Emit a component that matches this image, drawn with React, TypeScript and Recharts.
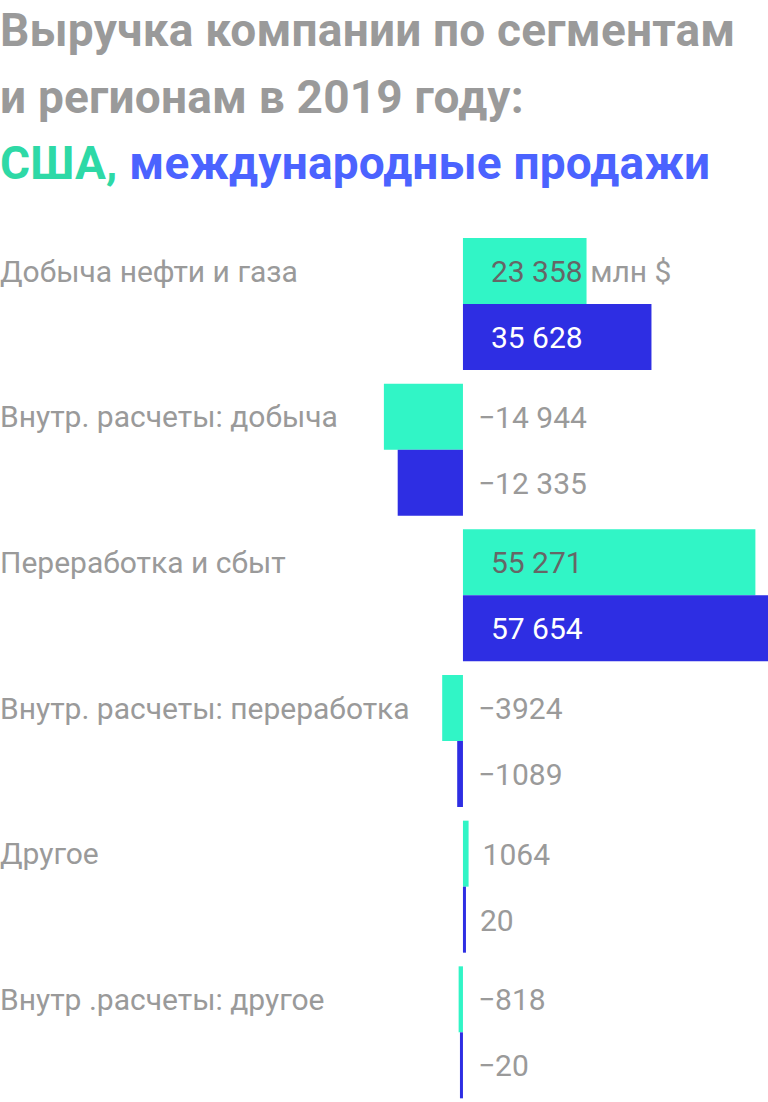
import React from 'react';
import { BarChart, Bar, XAxis, YAxis, LabelList } from 'recharts';

const categories = [
  'Добыча нефти и газа',
  'Внутр. расчеты: добыча',
  'Переработка и сбыт',
  'Внутр. расчеты: переработка',
  'Другое',
  'Внутр .расчеты: другое',
];
const usaValues = [23358, -14944, 55271, -3924, 1064, -818];
const intlValues = [35628, -12335, 57654, -1089, 20, -20];
const unitLabel = 'млн $';

const data = categories.map((name, i) => ({ name, usa: usaValues[i], intl: intlValues[i] }));

const GREEN = '#31F5C6';
const BLUE = '#2E2EE3';
const GREY = '#9a9a9a';
const FONT = 'Roboto, "Noto Sans", sans-serif';

const fmt = (v: number) => {
  const a = Math.abs(v);
  let s = String(a);
  if (a >= 10000) s = s.replace(/\B(?=(\d{3})+(?!\d))/g, ' ');
  return (v < 0 ? '−' : '') + s;
};

const makeValueLabel = (series: 'usa' | 'intl') => (props: any) => {
  const { x, y, width, height, value, index } = props;
  const v = Number(value);
  let lx: number;
  let fill = GREY;
  if (v >= 10000) {
    lx = x + 28;
    fill = series === 'usa' ? '#666666' : '#ffffff';
  } else if (v > 0) {
    lx = x + width + 14;
  } else {
    lx = x + 15;
  }
  const cy = y + height / 2;
  return (
    <text x={lx} y={cy} dominantBaseline="central" fontFamily={FONT} fontSize={30} fill={fill}>
      <tspan>{fmt(v)}</tspan>
      {series === 'usa' && index === 0 ? <tspan fill={GREY}>{' ' + unitLabel}</tspan> : null}
    </text>
  );
};

const CategoryLabel = (props: any) => {
  const { y, height, value } = props;
  return (
    <text x={0} y={y + height / 2} dominantBaseline="central" fontFamily={FONT} fontSize={30} fill={GREY}>
      {value}
    </text>
  );
};

export default function App() {
  return (
    <div style={{ position: 'relative', width: 768, height: 1102, overflow: 'hidden', background: '#fff' }}>
      <style>{`body{margin:0;}`}</style>
      <div
        style={{
          position: 'absolute',
          left: 0,
          top: -3,
          fontFamily: FONT,
          fontWeight: 700,
          fontSize: 46,
          letterSpacing: 0.2,
          lineHeight: '66.5px',
          color: GREY,
          whiteSpace: 'nowrap',
        }}
      >
        <div>Выручка компании по сегментам</div>
        <div>и регионам в 2019 году:</div>
        <div>
          <span style={{ color: '#2ED9A6' }}>США,</span>{' '}
          <span style={{ color: '#4B63FF' }}>международные продажи</span>
        </div>
      </div>
      <div style={{ position: 'absolute', left: 0, top: 0 }}>
        <BarChart
          width={768}
          height={1110}
          data={data}
          layout="vertical"
          margin={{ top: 231, right: 0, bottom: 5, left: 0 }}
          barGap={0}
          barCategoryGap={7}
        >
          <XAxis type="number" domain={[-87500, 57654]} allowDataOverflow hide />
          <YAxis type="category" dataKey="name" hide />
          <Bar dataKey="usa" fill={GREEN} barSize={66} minPointSize={3} isAnimationActive={false}>
            <LabelList dataKey="name" content={CategoryLabel} />
            <LabelList dataKey="usa" content={makeValueLabel('usa')} />
          </Bar>
          <Bar dataKey="intl" fill={BLUE} barSize={66} minPointSize={3} isAnimationActive={false}>
            <LabelList dataKey="intl" content={makeValueLabel('intl')} />
          </Bar>
        </BarChart>
      </div>
    </div>
  );
}
